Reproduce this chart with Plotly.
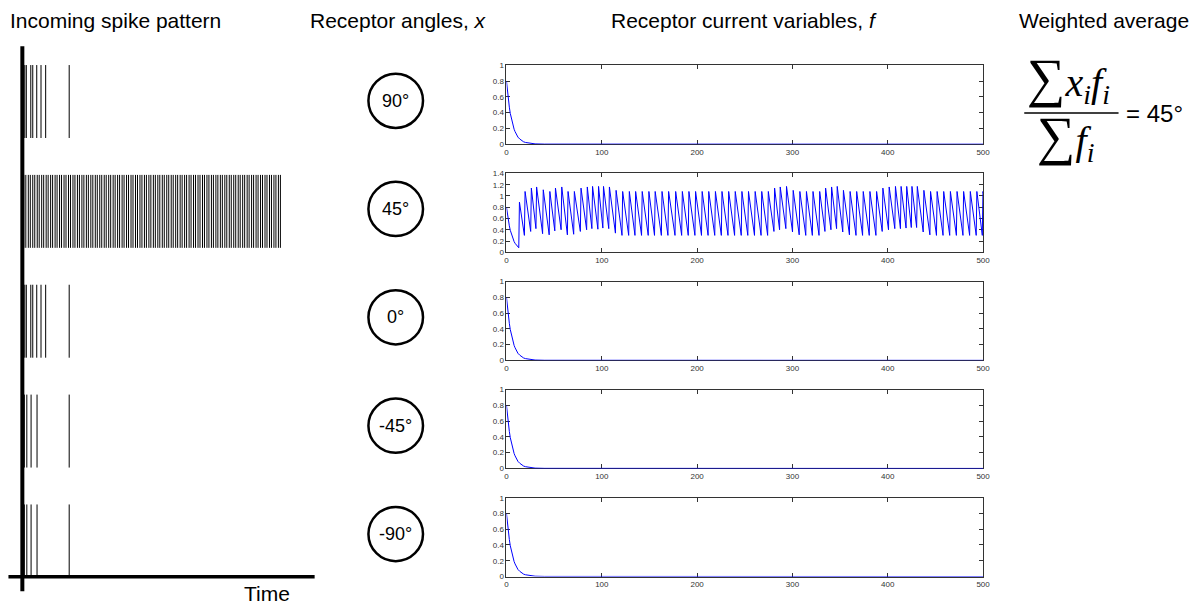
import plotly.graph_objects as go

W, H = 1197, 609

# ---------------- data ----------------
angle_labels = ["90°", "45°", "0°", "-45°", "-90°"]

# incoming spike times (arbitrary time units) for each receptor row
spikes_90 = [2, 5, 14, 18, 26, 34.6, 44, 91.4]
spikes_45 = [0, 4, 9, 13, 18, 22, 27, 31, 36, 40, 45, 49, 54, 58, 63, 67, 72, 76, 81, 85,
             90, 94, 99, 103, 108, 112, 117, 121, 126, 130, 135, 139, 144, 148, 153, 157,
             162, 166, 171, 175, 180, 184, 189, 193, 198, 202, 207, 211, 216, 220, 225, 229,
             234, 238, 243, 247, 252, 256, 261, 265, 270, 274, 279, 283, 288, 292, 297, 301,
             306, 310, 315, 319, 324, 328, 333, 337, 342, 346, 351, 355, 360, 364, 369, 373,
             378, 382, 387, 391, 396, 400, 405, 409, 414, 418, 423, 427, 432, 436, 441, 445,
             450, 454, 459, 463, 468, 472, 477, 481, 486, 490, 495, 499, 504, 508, 513, 517]
spikes_0 = [2, 5, 14, 18, 26, 34.6, 44, 91.4]
spikes_m45 = [1, 6, 14.6, 26.6, 91.4]
spikes_m90 = [1, 6, 14.6, 26.6, 91.4]

# receptor current (single decay)
decay_t = [0, 1, 2, 3, 4, 5, 6, 7, 8, 9, 10, 11, 12, 14, 16, 18, 20, 25, 30, 40, 500]
decay_f = [0.8, 0.67, 0.56, 0.47, 0.39, 0.33, 0.27, 0.23, 0.19, 0.16, 0.135, 0.11, 0.09,
           0.065, 0.045, 0.03, 0.022, 0.009, 0.004, 0.001, 0.0]

# 45° receptor: spike arrival times, value just before the jump, and value after it
saw_t = [12.9, 18.8, 25.4, 30.9, 37.9, 44.8, 50.7, 57.3, 63.9, 70.5, 77.5, 84.1, 89.6, 95.9,
         101.1, 107.3, 114.3, 121.2, 128.2, 134.8, 141.7, 148.7, 155.3, 162.5, 169.4, 176.8,
         183.8, 190.7, 197.7, 204.6, 211.5, 218.5, 225.4, 232.4, 239.3, 246.3, 253.2, 260.2,
         267.1, 274.0, 280.6, 286.5, 293.1, 300.1, 307.1, 314.0, 320.9, 327.9, 334.1, 340.4,
         346.3, 352.8, 359.8, 366.7, 373.6, 380.6, 387.6, 394.2, 400.8, 407.4, 413.3, 419.2,
         424.7, 430.3, 437.2, 444.2, 451.1, 458.0, 465.0, 472.0, 478.9, 485.9, 492.8, 499.2]
saw_trough = [0.08, 0.30, 0.37, 0.42, 0.33, 0.31, 0.38, 0.40, 0.31, 0.32, 0.37, 0.40, 0.42, 0.41,
              0.43, 0.42, 0.34, 0.30, 0.30, 0.30, 0.30, 0.30, 0.30, 0.30, 0.30, 0.30,
              0.30, 0.30, 0.30, 0.30, 0.30, 0.30, 0.30, 0.30, 0.30, 0.30, 0.30, 0.30,
              0.30, 0.30, 0.37, 0.40, 0.42, 0.36, 0.31, 0.30, 0.30, 0.30, 0.37, 0.40,
              0.42, 0.36, 0.31, 0.30, 0.30, 0.30, 0.30, 0.37, 0.40, 0.42, 0.42, 0.43,
              0.44, 0.44, 0.36, 0.31, 0.30, 0.30, 0.30, 0.30, 0.30, 0.30, 0.30, 0.30]
saw_peak = [0.89, 1.08, 1.14, 1.16, 1.11, 1.08, 1.14, 1.16, 1.08, 1.08, 1.14, 1.16, 1.17, 1.17,
            1.17, 1.16, 1.10, 1.08, 1.08, 1.08, 1.08, 1.08, 1.08, 1.08, 1.08, 1.08,
            1.08, 1.08, 1.08, 1.08, 1.08, 1.08, 1.08, 1.08, 1.08, 1.08, 1.08, 1.08,
            1.08, 1.08, 1.14, 1.16, 1.17, 1.10, 1.08, 1.08, 1.08, 1.08, 1.14, 1.16,
            1.17, 1.10, 1.08, 1.08, 1.08, 1.08, 1.08, 1.14, 1.16, 1.17, 1.17, 1.17,
            1.17, 1.17, 1.10, 1.08, 1.08, 1.08, 1.08, 1.08, 1.08, 1.08, 1.08, 1.08]
saw_end = 1.05

x_ticks = [0, 100, 200, 300, 400, 500]
y_max = [1.0, 1.4, 1.0, 1.0, 1.0]

# ---------------- helpers ----------------
def px(x):
    return x / W

def py(y):
    return 1 - y / H

fig = go.Figure()

# ---------------- receptor current panels ----------------
panel_top = [62.3, 172.0, 281.7, 391.4, 501.1]
panel_bot = [142.3, 252.0, 361.7, 471.4, 581.1]
tickfont = dict(family="Liberation Sans Narrow, Liberation Sans, Arial", size=8, color="#333")

# build 45° trace
x45, y45 = [], []
for t, f in zip(decay_t, decay_f):
    if t < saw_t[0]:
        x45.append(t); y45.append(f)
for t, lo, hi in zip(saw_t, saw_trough, saw_peak):
    x45 += [t, t + 0.7]
    y45 += [lo, hi]
x45.append(500); y45.append(saw_end)

series = [
    (decay_t, decay_f),
    (x45, y45),
    (decay_t, decay_f),
    (decay_t, decay_f),
    (decay_t, decay_f),
]

layout_axes = {}
for i, (xs, ys) in enumerate(series):
    n = "" if i == 0 else str(i + 1)
    fig.add_trace(go.Scatter(x=xs, y=ys, mode="lines", line=dict(color="#0000ff", width=1),
                             xaxis="x" + n, yaxis="y" + n, hoverinfo="skip"))
    common = dict(showline=True, linecolor="#333", linewidth=1, mirror="allticks",
                  ticks="inside", ticklen=4, tickcolor="#333", tickwidth=1,
                  showgrid=False, zeroline=False, tickfont=tickfont, layer="below traces",
                  fixedrange=True)
    layout_axes["xaxis" + n] = dict(domain=[px(508.3), px(988.5)], range=[0, 500],
                                    tickvals=x_ticks, anchor="y" + n, **common)
    layout_axes["yaxis" + n] = dict(domain=[py(panel_bot[i]), py(panel_top[i])],
                                    range=[0, y_max[i]], tick0=0, dtick=0.2,
                                    anchor="x" + n, **common)

# ---------------- spike raster ----------------
rows = [spikes_90, spikes_45, spikes_0, spikes_m45, spikes_m90]
sx, sy = [], []
for k, row in enumerate(rows):
    base = 4 - k
    for t in row:
        sx += [t, t, None]
        sy += [base, base + 0.664, None]
fig.add_trace(go.Scatter(x=sx, y=sy, mode="lines", line=dict(color="black", width=1),
                         xaxis="x6", yaxis="y6", hoverinfo="skip"))
layout_axes["xaxis6"] = dict(domain=[px(22), px(300)], range=[0, 556], visible=False,
                             fixedrange=True)
layout_axes["yaxis6"] = dict(domain=[py(582), py(24.5)], range=[0, 5], visible=False,
                             fixedrange=True, anchor="x6")

# ---------------- shapes ----------------
shapes = [
    dict(type="line", xref="paper", yref="paper", x0=px(20.5), x1=px(20.5), y0=py(43), y1=py(596),
         line=dict(color="black", width=4)),
    dict(type="line", xref="paper", yref="paper", x0=px(6.5), x1=px(315), y0=py(581.3), y1=py(581.3),
         line=dict(color="black", width=3.5)),
    dict(type="line", xref="paper", yref="paper", x0=px(1030), x1=px(1125), y0=py(110.7), y1=py(110.7),
         line=dict(color="black", width=1.5)),
]
circle_cy = [98.3, 208.0, 318.0, 428.0, 538.0]
annotations = []
for lab, cy in zip(angle_labels, circle_cy):
    r = 27.5
    shapes.append(dict(type="circle", xref="paper", yref="paper",
                       x0=px(396.7 - r), x1=px(396.7 + r), y0=py(cy + r), y1=py(cy - r),
                       line=dict(color="black", width=2.5)))
    annotations.append(dict(text=lab, x=px(396.7), y=py(cy), xref="paper", yref="paper",
                            showarrow=False, xanchor="center", yanchor="middle",
                            font=dict(family="Liberation Sans, Arial", size=18, color="black")))

title_font = dict(family="Liberation Sans, Arial", size=21, color="black")
annotations += [
    dict(text="Incoming spike pattern", x=px(6), y=py(17), xanchor="left", yanchor="middle",
         font=title_font),
    dict(text="Receptor angles, <i>x</i>", x=px(400), y=py(17), xanchor="center", yanchor="middle",
         font=title_font),
    dict(text="Receptor current variables, <i>f</i>", x=px(748), y=py(17), xanchor="center",
         yanchor="middle", font=title_font),
    dict(text="Weighted average", x=px(1198), y=py(17), xanchor="right", yanchor="middle",
         font=title_font),
    dict(text="Time", x=px(267), y=py(598), xanchor="center", yanchor="middle",
         font=dict(family="Liberation Sans, Arial", size=21, color="black")),
    dict(text='<span style="font-size:54px">∑</span><i>x<sub>i</sub>f<sub>i</sub></i>',
         x=px(1031), y=py(76), xanchor="left", yanchor="middle",
         font=dict(family="Liberation Serif, Times New Roman, serif", size=40, color="black")),
    dict(text='<span style="font-size:54px">∑</span><i>f<sub>i</sub></i>',
         x=px(1041), y=py(135), xanchor="left", yanchor="middle",
         font=dict(family="Liberation Serif, Times New Roman, serif", size=40, color="black")),
    dict(text="= 45°", x=px(1131), y=py(111), xanchor="left", yanchor="middle",
         font=dict(family="Liberation Sans, Arial", size=24, color="black")),
]
for a in annotations:
    a.setdefault("xref", "paper")
    a.setdefault("yref", "paper")
    a.setdefault("showarrow", False)

fig.update_layout(width=W, height=H, margin=dict(l=0, r=0, t=0, b=0),
                  paper_bgcolor="white", plot_bgcolor="white", showlegend=False,
                  shapes=shapes, annotations=annotations, **layout_axes)

fig.write_html("out.html", config={"displayModeBar": False})
